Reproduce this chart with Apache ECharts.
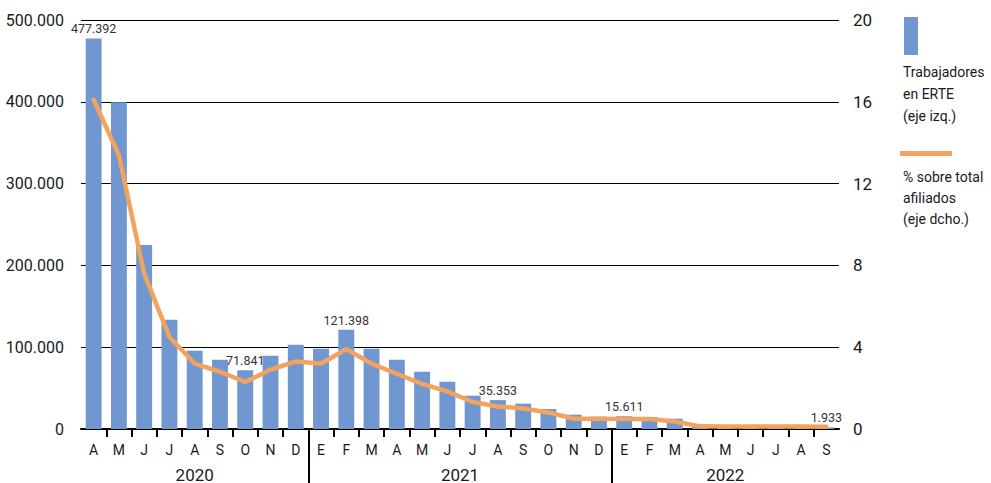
<!DOCTYPE html>
<html>
<head>
<meta charset="utf-8">
<script src="https://cdn.jsdelivr.net/npm/echarts@6/dist/echarts.min.js"></script>
<style>
html,body{margin:0;padding:0;background:#fff;}
#c{width:991px;height:483px;}
</style>
</head>
<body>
<div id="c"></div>
<script>
// ---- data ----
var months = ['A','M','J','J','A','S','O','N','D',
              'E','F','M','A','M','J','J','A','S','O','N','D',
              'E','F','M','A','M','J','J','A','S'];
var years = ['2020','2021','2022'];
var monthsPerYear = [9,12,9];
var erte = [477392, 399500, 225000, 133500, 95600, 84600, 71841, 89500, 103000,
            98000, 121398, 98000, 84600, 70000, 57800, 40700, 35353, 31000, 24400, 17500, 15000,
            15611, 14700, 12600, 3600, 3300, 3000, 2800, 2600, 1933];
var pct = [16.1, 13.4, 7.6, 4.5, 3.2, 2.8, 2.3, 2.9, 3.3,
           3.2, 3.9, 3.2, 2.7, 2.2, 1.84, 1.32, 1.1, 1.0, 0.81, 0.5, 0.5,
           0.49, 0.49, 0.37, 0.13, 0.12, 0.12, 0.12, 0.12, 0.11];
var labeledIdx = [0, 6, 10, 16, 21, 29];
var leftTicks = [0, 100000, 200000, 300000, 400000, 500000];
var rightTicks = [0, 4, 8, 12, 16, 20];
var legendBar = 'Trabajadores\nen ERTE\n(eje izq.)';
var legendLine = '% sobre total\nafiliados\n(eje dcho.)';

// ---- helpers ----
var FONT = 'Roboto,"Noto Sans",sans-serif';
var BLUE = '#7097D0', ORANGE = '#F4A35E', INK = '#1a1a1a';
function fmt(v){ return String(Math.round(v)).replace(/\B(?=(\d{3})+(?!\d))/g, '.'); }

// half-slot grid: 2*n+1 points spanning the category bands
var n = months.length;
var slots = [];
for (var i = 0; i <= 2*n; i++) slots.push('');
var yearSlots = slots.slice();
var sepSlots = [];
var acc = 0;
monthsPerYear.forEach(function(m, k){
  yearSlots[acc*2 + m] = years[k];
  acc += m;
  if (k < monthsPerYear.length-1) sepSlots.push(acc*2);
});

var barData = erte.map(function(v, i){
  var d = {value: v};
  if (labeledIdx.indexOf(i) >= 0) d.label = {show: true};
  return d;
});

var chart = echarts.init(document.getElementById('c'), null, {renderer: 'svg'});
chart.setOption({
  animation: false,
  textStyle: {fontFamily: FONT},
  grid: {left: 81, right: 152, top: 20, bottom: 54, containLabel: false},
  xAxis: [
    {type: 'category', data: months, boundaryGap: true, position: 'bottom',
     axisLine: {onZero: false, lineStyle: {color: '#000', width: 2}},
     axisTick: {show: false},
     axisLabel: {color: INK, fontSize: 14, fontFamily: FONT, margin: 14, interval: 0}},
    {type: 'category', data: slots, boundaryGap: false, position: 'bottom',
     axisLine: {show: false, onZero: false},
     axisLabel: {show: false},
     axisTick: {show: true, length: 8, lineStyle: {color: '#000', width: 2},
       interval: function(idx){ return idx % 2 === 0 && idx > 0 && idx < 2*n; }}},
    {type: 'category', data: yearSlots, boundaryGap: false, position: 'bottom',
     axisLine: {show: false, onZero: false},
     axisLabel: {show: true, color: INK, fontSize: 17, fontFamily: FONT, margin: 37,
       interval: function(idx){ return yearSlots[idx] !== ''; }},
     axisTick: {show: true, length: 60, lineStyle: {color: '#000', width: 2},
       interval: function(idx){ return sepSlots.indexOf(idx) >= 0; }}}
  ],
  yAxis: [
    {type: 'value', min: leftTicks[0], max: leftTicks[leftTicks.length-1],
     interval: leftTicks[1]-leftTicks[0],
     axisLine: {show: false}, axisTick: {show: false},
     splitLine: {show: true, lineStyle: {color: '#000', width: 1}},
     axisLabel: {color: INK, fontSize: 16, fontFamily: FONT, margin: 17, formatter: fmt}},
    {type: 'value', min: rightTicks[0], max: rightTicks[rightTicks.length-1],
     interval: rightTicks[1]-rightTicks[0],
     axisLine: {show: false}, axisTick: {show: false}, splitLine: {show: false},
     axisLabel: {color: INK, fontSize: 17, fontFamily: FONT, margin: 14}}
  ],
  series: [
    {type: 'bar', name: 'Trabajadores en ERTE', xAxisIndex: 0, yAxisIndex: 0,
     data: barData, barWidth: '63%', itemStyle: {color: BLUE}, z: 2,
     label: {show: false, position: 'top', distance: 3, color: '#333', fontSize: 12.5,
       fontFamily: FONT, formatter: function(p){ return fmt(p.value); }}},
    {type: 'line', name: '% sobre total afiliados', xAxisIndex: 0, yAxisIndex: 1,
     data: pct, symbol: 'none', z: 3,
     lineStyle: {color: ORANGE, width: 4.5, cap: 'round', join: 'round'}}
  ],
  graphic: [
    {type: 'rect', left: 904, top: 17, shape: {width: 14, height: 38}, style: {fill: BLUE}},
    {type: 'text', left: 903, top: 61,
     style: {text: legendBar, fill: INK, font: '14px ' + FONT, lineHeight: 22}},
    {type: 'rect', left: 900, top: 151, shape: {width: 52, height: 5}, style: {fill: ORANGE}},
    {type: 'text', left: 903, top: 166,
     style: {text: legendLine, fill: INK, font: '14px ' + FONT, lineHeight: 21}}
  ]
});
</script>
</body>
</html>
